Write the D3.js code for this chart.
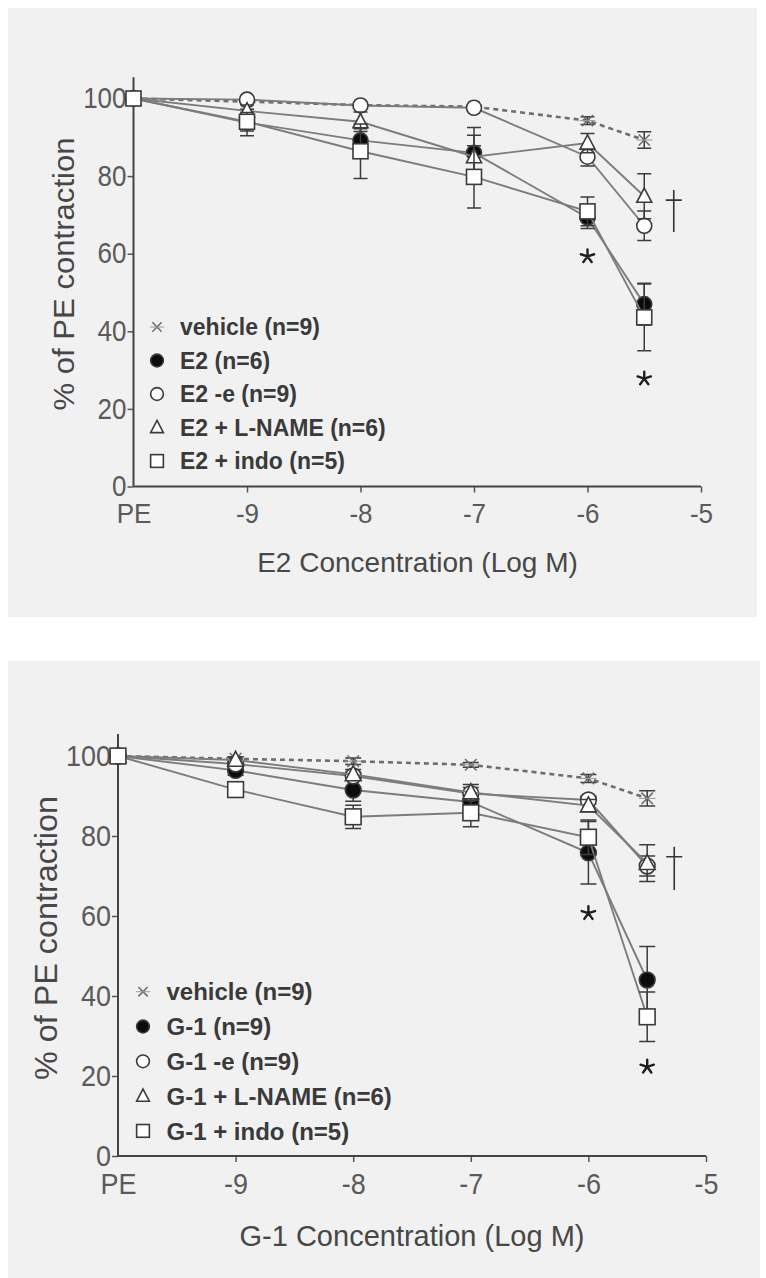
<!DOCTYPE html>
<html>
<head>
<meta charset="utf-8">
<script src="https://cdn.jsdelivr.net/npm/d3@7"></script>
<style>
  body { margin: 0; background: #fff; }
  svg { display: block; }
</style>
</head>
<body>
<div id="chart"></div>
<script>
'use strict';

// -10 is where the PE (no drug) point sits on the log axis
var doses = [-10, -9, -8, -7, -6, -5.5];
var xTickValues = [-10, -9, -8, -7, -6, -5];
var xTickLabels = ['PE', '-9', '-8', '-7', '-6', '-5'];
var yTickValues = [0, 20, 40, 60, 80, 100];
var markerTypes = ['cross', 'filled', 'open', 'triangle', 'square'];

// E2 panel
var e2Labels = ['vehicle (n=9)', 'E2 (n=6)', 'E2 -e (n=9)', 'E2 + L-NAME (n=6)', 'E2 + indo (n=5)'];
var e2Vehicle = [100, 99.2, 98.3, 97.9, 94.3, 89.3];
var e2VehicleErr = [0, 0.5, 0.5, 0.5, 1, 2.1];
var e2Mean = [100, 93.8, 89.2, 86, 69.3, 47];
var e2MeanErr = [0, 3.4, 3, 6.5, 2.8, 5.4];
var e2Endo = [100, 99.7, 98.2, 97.6, 85, 67.2];
var e2EndoErr = [0, 0.5, 0.5, 0.6, 2.4, 3.8];
var e2Lname = [100, 96.8, 94, 85, 88.5, 74.8];
var e2LnameErr = [0, 1.5, 2.5, 5.5, 2.5, 5.8];
var e2Indo = [100, 94, 86.4, 79.8, 70.9, 43.6];
var e2IndoErr = [0, 2.4, 7, 8, 3.7, 8.6];
var e2Stars = [[-6, 59.3], [-5.5, 27.8]];
var e2Dagger = [-5.24, 65.6, 76.4, 73.8];   // x, y bottom, y top, crossbar

// G-1 panel
var g1Labels = ['vehicle (n=9)', 'G-1 (n=9)', 'G-1 -e (n=9)', 'G-1 + L-NAME (n=6)', 'G-1 + indo (n=5)'];
var g1Vehicle = [100, 99.3, 98.7, 97.8, 94.4, 89.4];
var g1VehicleErr = [0, 0.5, 0.8, 0.6, 1, 1.9];
var g1Mean = [100, 96.4, 91.5, 88.5, 75.8, 44];
var g1MeanErr = [0, 1.2, 2.8, 2, 7.8, 8.4];
var g1Endo = [100, 98, 95, 90.6, 89, 72.5];
var g1EndoErr = [0, 0.8, 1, 1.5, 1, 2.5];
var g1Lname = [100, 99, 95.4, 90.9, 87.6, 73.2];
var g1LnameErr = [0, 0.8, 1.2, 2, 1.5, 4.6];
var g1Indo = [100, 91.6, 84.8, 85.8, 79.7, 34.8];
var g1IndoErr = [0, 1, 2.9, 3.5, 4.3, 6.2];
var g1Stars = [[-6, 60.7], [-5.5, 22.3]];
var g1Dagger = [-5.27, 66.5, 77.3, 74.8];

var FONT = '"Liberation Sans", Arial, Helvetica, sans-serif',
    LINE_GREY = '#7c7c7c',
    EDGE = '#3a3a3a',
    TEXT_GREY = '#5a5a5a';

var svg = d3.select('#chart').append('svg')
    .attr('width', 766)
    .attr('height', 1278);

function drawMarker(g, type, cx, cy, k) {
    var s = k || 1;
    if (type === 'cross') {
        var a = 5.5 * s;
        g.append('path')
            .attr('d', 'M' + (cx - a) + ',' + (cy - a) + 'L' + (cx + a) + ',' + (cy + a) +
                'M' + (cx - a) + ',' + (cy + a) + 'L' + (cx + a) + ',' + (cy - a))
            .attr('stroke', '#6a6a6a').attr('stroke-width', 1.5).attr('fill', 'none');
        g.append('path')
            .attr('d', 'M' + (cx - a - 2.5) + ',' + cy + 'L' + (cx + a + 2.5) + ',' + cy)
            .attr('stroke', '#9a9a9a').attr('stroke-width', 1).attr('fill', 'none');
    } else if (type === 'filled' || type === 'open') {
        g.append('circle')
            .attr('cx', cx).attr('cy', cy).attr('r', 7.5 * s)
            .attr('fill', type === 'filled' ? '#0c0c0c' : '#fff')
            .attr('stroke', EDGE).attr('stroke-width', 1.6);
    } else if (type === 'triangle') {
        var w = 7.5 * s;
        g.append('path')
            .attr('d', 'M' + cx + ',' + (cy - w * 1.1) + 'L' + (cx + w) + ',' + (cy + w * 0.8) +
                'L' + (cx - w) + ',' + (cy + w * 0.8) + 'Z')
            .attr('fill', '#fff').attr('stroke', EDGE).attr('stroke-width', 1.6);
    } else {
        var h = 7.5 * s;
        g.append('rect')
            .attr('x', cx - h).attr('y', cy - h).attr('width', 2 * h).attr('height', 2 * h)
            .attr('fill', '#fff').attr('stroke', EDGE).attr('stroke-width', 1.6);
    }
}

function drawPanel(p) {
    var root = svg.append('g');

    root.append('rect')
        .attr('x', p.bg[0]).attr('y', p.bg[1])
        .attr('width', p.bg[2]).attr('height', p.bg[3])
        .attr('fill', '#f1f1f1');

    var x = d3.scaleLinear().domain([-10, -5]).range(p.xRange);
    var y = d3.scaleLinear().domain([0, 100]).range(p.yRange);

    // axes
    var yAxis = root.append('g')
        .attr('transform', 'translate(' + x(-10) + ',0)')
        .call(d3.axisLeft(y).tickValues(yTickValues).tickSize(6).tickPadding(1));
    yAxis.select('.domain').remove();
    yAxis.append('line')
        .attr('x1', 0).attr('x2', 0).attr('y1', y(0)).attr('y2', y(105.5))
        .attr('stroke', '#444').attr('stroke-width', 2);
    yAxis.selectAll('.tick line').attr('stroke', '#555').attr('stroke-width', 1.5);
    yAxis.selectAll('.tick text')
        .attr('fill', TEXT_GREY)
        .style('font-family', FONT)
        .style('font-size', p.tickSize + 'px')
        .attr('transform', 'scale(1,1.1)');

    var xAxis = root.append('g')
        .attr('transform', 'translate(0,' + y(0) + ')')
        .call(d3.axisBottom(x).tickValues(xTickValues).tickSize(6)
            .tickFormat(function (d, i) { return xTickLabels[i]; }));
    xAxis.select('.domain').remove();
    xAxis.append('line')
        .attr('x1', x(-10)).attr('x2', x(-5)).attr('y1', 0).attr('y2', 0)
        .attr('stroke', '#444').attr('stroke-width', 2);
    xAxis.selectAll('.tick line').attr('stroke', '#555').attr('stroke-width', 1.5)
        .attr('display', function (d) { return d === -10 ? 'none' : null; });
    xAxis.selectAll('.tick text')
        .attr('fill', TEXT_GREY)
        .attr('y', p.xLabelDy)
        .attr('dy', null)
        .style('font-family', FONT)
        .style('font-size', p.tickSize + 'px')
        .attr('transform', 'scale(1,1.08)');

    // axis titles
    root.append('text')
        .attr('transform', 'translate(' + p.yTitle[0] + ',' + p.yTitle[1] + ') rotate(-90)')
        .attr('text-anchor', 'middle')
        .attr('dy', '0.36em')
        .attr('textLength', p.yTitle[2])
        .attr('lengthAdjust', 'spacingAndGlyphs')
        .attr('fill', '#474747')
        .style('font-family', FONT)
        .style('font-size', p.titleSize + 2 + 'px')
        .text('% of PE contraction');

    root.append('text')
        .attr('x', p.xTitle[0]).attr('y', p.xTitle[1])
        .attr('text-anchor', 'middle')
        .attr('fill', '#474747')
        .style('font-family', FONT)
        .style('font-size', p.titleSize + 'px')
        .text(p.xTitleText);

    // series: line, error bars, markers
    p.series.forEach(function (s, i) {
        var pts = doses.map(function (d, j) { return {c: d, v: s.values[j], e: s.err[j]}; });
        var g = root.append('g');
        g.append('path')
            .datum(pts)
            .attr('d', d3.line().x(function (d) { return x(d.c); }).y(function (d) { return y(d.v); }))
            .attr('fill', 'none')
            .attr('stroke', i === 0 ? '#6e6e6e' : LINE_GREY)
            .attr('stroke-width', i === 0 ? 2.6 : 1.9)
            .attr('stroke-dasharray', i === 0 ? '5,4' : null);

        pts.filter(function (d) { return d.e > 0; }).forEach(function (d) {
            var cx = x(d.c), top = y(d.v + d.e), bot = y(d.v - d.e);
            g.append('path')
                .attr('d', 'M' + cx + ',' + top + 'L' + cx + ',' + bot +
                    'M' + (cx - p.cap) + ',' + top + 'L' + (cx + p.cap) + ',' + top +
                    'M' + (cx - p.cap) + ',' + bot + 'L' + (cx + p.cap) + ',' + bot)
                .attr('fill', 'none').attr('stroke', '#3c3c3c').attr('stroke-width', 1.5);
        });

        pts.forEach(function (d) {
            drawMarker(g, markerTypes[i], x(d.c), y(d.v), p.markerScale);
        });
    });

    // legend
    var leg = root.append('g');
    p.labels.forEach(function (lab, i) {
        var cy = p.legend[1] + i * p.legend[3];
        drawMarker(leg, markerTypes[i], p.legend[0], cy, 0.85);
        leg.append('text')
            .attr('x', p.legend[2]).attr('y', cy)
            .attr('dy', '0.36em')
            .attr('fill', '#3a3a3a')
            .style('font-family', FONT)
            .style('font-weight', 'bold')
            .style('font-size', p.legendSize + 'px')
            .text(lab);
    });

    // significance marks
    var star = d3.range(5).map(function (k) {
        var ang = (-90 + k * 72) * Math.PI / 180;
        return 'M0,0L' + (7 * Math.cos(ang)).toFixed(2) + ',' + (7 * Math.sin(ang)).toFixed(2);
    }).join('');
    p.stars.forEach(function (s) {
        root.append('path')
            .attr('transform', 'translate(' + x(s[0]) + ',' + y(s[1]) + ')')
            .attr('d', star)
            .attr('stroke', '#1e1e1e').attr('stroke-width', 2.4)
            .attr('stroke-linecap', 'round').attr('fill', 'none');
    });
    var dx = x(p.dagger[0]);
    root.append('path')
        .attr('d', 'M' + dx + ',' + y(p.dagger[1]) + 'L' + dx + ',' + y(p.dagger[2]) +
            'M' + (dx - 8) + ',' + y(p.dagger[3]) + 'L' + (dx + 8) + ',' + y(p.dagger[3]))
        .attr('stroke', '#333').attr('stroke-width', 1.6).attr('fill', 'none');
}

drawPanel({
    bg: [8, 8, 749, 609],
    xRange: [133.5, 701],
    yRange: [486.5, 98.5],
    tickSize: 26,
    xLabelDy: 34,
    titleSize: 28,
    legendSize: 23,
    cap: 7,
    markerScale: 1,
    yTitle: [63, 274, 273],
    xTitle: [417.5, 572],
    xTitleText: 'E2 Concentration (Log M)',
    legend: [157, 327, 180, 33.5],
    labels: e2Labels,
    series: [
        {values: e2Vehicle, err: e2VehicleErr},
        {values: e2Mean, err: e2MeanErr},
        {values: e2Endo, err: e2EndoErr},
        {values: e2Lname, err: e2LnameErr},
        {values: e2Indo, err: e2IndoErr}
    ],
    stars: e2Stars,
    dagger: e2Dagger
});

drawPanel({
    bg: [8, 661, 752, 617],
    xRange: [118, 706],
    yRange: [1156, 756],
    tickSize: 27,
    xLabelDy: 35,
    titleSize: 29,
    legendSize: 24,
    cap: 8,
    markerScale: 1.05,
    yTitle: [46, 938, 284],
    xTitle: [412, 1246],
    xTitleText: 'G-1 Concentration (Log M)',
    legend: [143, 991.7, 166.5, 34.8],
    labels: g1Labels,
    series: [
        {values: g1Vehicle, err: g1VehicleErr},
        {values: g1Mean, err: g1MeanErr},
        {values: g1Endo, err: g1EndoErr},
        {values: g1Lname, err: g1LnameErr},
        {values: g1Indo, err: g1IndoErr}
    ],
    stars: g1Stars,
    dagger: g1Dagger
});
</script>
</body>
</html>
